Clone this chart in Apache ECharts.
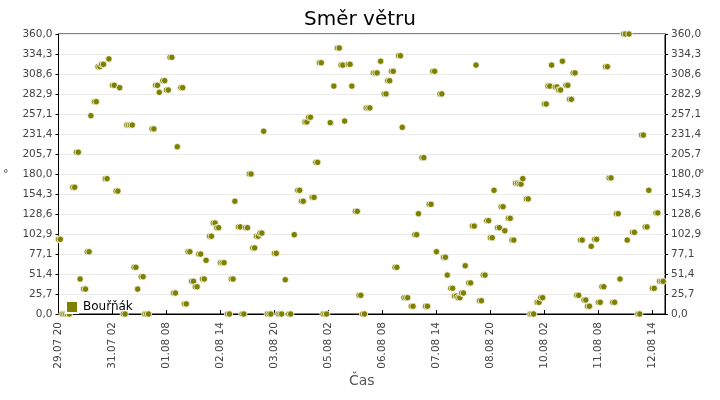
<!DOCTYPE html>
<html>
<head>
<meta charset="utf-8">
<title>Směr větru</title>
<style>html,body{margin:0;padding:0;background:#fff;}</style>
</head>
<body>
<div id="main" style="width: 720px;height:400px;"></div>
<script src="https://cdn.jsdelivr.net/npm/echarts@6/dist/echarts.min.js"></script>
<script>
    // hodiny od 29.07 20:00 a směr větru ve stupních
    var start = Date.UTC(2020, 6, 29, 20);
    var hours = [
        0, 1, 2, 3, 4, 5, 6, 8, 9, 10, 11, 12, 14, 15, 16, 17, 18, 20, 21, 22, 23, 24, 25, 26, 27, 28,
        30, 31, 32, 33, 34, 36, 37, 38, 39, 40, 41, 42, 43, 44, 46, 47, 48, 49, 50, 52, 53, 54, 55, 56,
        58, 59, 60, 61, 62, 63, 64, 65, 66, 68, 69, 70, 71, 72, 73, 74, 75, 76, 77, 78, 79, 80, 81, 82,
        84, 85, 86, 87, 88, 89, 90, 91, 92, 94, 95, 96, 97, 98, 100, 101, 102, 103, 104, 105, 106, 107,
        108, 109, 110, 111, 112, 113, 114, 116, 117, 118, 120, 121, 122, 123, 124, 126, 128, 129, 131,
        133, 134, 135, 136, 137, 138, 139, 140, 141, 142, 143, 144, 145, 146, 147, 148, 149, 151, 153,
        155, 156, 157, 158, 159, 161, 162, 163, 165, 166, 167, 168, 169, 170, 171, 172, 173, 175, 176, 177,
        179, 181, 182, 183, 184, 185, 186, 187, 188, 189, 190, 191, 192, 193, 194, 196, 197, 198, 199, 200,
        202, 203, 204, 205, 206, 207, 208, 209, 210, 212, 213, 214, 215, 216, 218, 219, 220, 221, 222, 223,
        224, 225, 226, 228, 229, 230, 231, 232, 234, 235, 236, 237, 238, 239, 240, 241, 242, 244, 245, 246,
        247, 248, 250, 251, 252, 253, 254, 255, 256, 257, 258, 260, 261, 262, 263, 264, 266, 267, 268, 269,
        270, 271, 272, 273, 274, 276, 277, 278, 279, 280, 282, 283, 284, 285, 286, 287, 288, 289, 290, 291,
        292, 293, 294, 295, 296, 298, 299, 300, 301, 302, 303, 304, 305, 306, 307, 308, 309, 310, 311, 312,
        314, 315, 317, 316, 319, 320, 322, 323, 324, 325, 326, 327, 328, 330, 331, 332, 333, 334, 335, 336
    ];
    var dirs = [
        96, 96, 0, 0, 0, 0, 0, 163, 163, 208, 208, 45, 32, 32, 80, 80, 255, 273, 273, 318, 318, 321, 321, 174, 174, 328,
        294, 294, 158, 158, 291, 0, 0, 243, 243, 243, 243, 60, 60, 32, 48, 48, 0, 0, 0, 238, 238, 294, 294, 285,
        300, 300, 288, 288, 330, 330, 27, 27, 215, 291, 291, 13, 13, 80, 80, 42, 42, 35, 35, 77, 77, 45, 45, 69,
        100, 100, 117, 117, 111, 111, 66, 66, 66, 0, 0, 45, 45, 145, 112, 112, 0, 0, 111, 111, 180, 180,
        85, 85, 100, 100, 104, 104, 235, 0, 0, 0, 78, 78, 0, 0, 0, 44, 0, 0, 102,
        159, 159, 145, 145, 247, 247, 253, 253, 150, 150, 195, 195, 323, 323, 0, 0, 0, 246, 293,
        342, 342, 320, 320, 248, 321, 321, 293, 132, 132, 24, 24, 0, 0, 265, 265, 265, 310, 310, 310,
        325, 283, 283, 300, 300, 312, 312, 60, 60, 332, 332, 240, 21, 21, 21, 10, 10, 102, 102, 129,
        201, 201, 10, 10, 141, 141, 312, 312, 80, 283, 283, 73, 73, 50, 33, 33, 23, 23, 21, 21,
        27, 27, 62, 40, 40, 113, 113, 320, 17, 17, 50, 50, 120, 120, 98, 98, 159, 111, 111, 138,
        138, 107, 123, 123, 95, 95, 168, 168, 167, 167, 174, 148, 148, 0, 0, 0, 15, 15, 21, 21,
        270, 270, 293, 293, 320, 292, 292, 288, 288, 325, 294, 294, 276, 276, 310, 310, 24, 24, 95, 95,
        18, 18, 10, 10, 87, 96, 96, 15, 15, 35, 35, 318, 318, 175, 175, 15, 15, 129, 129, 45,
        360, 360, 360, 95, 105, 105, 0, 0, 230, 230, 112, 112, 159, 33, 33, 130, 130, 42, 42, 42
    ];
    var stationName = 'Bouřňák';

    var points = hours.map(function (h, i) {
        return [h, dirs[i]];
    });

    function pad(n) {
        return (n < 10 ? '0' : '') + n;
    }
    function timeLabel(h) {
        var d = new Date(start + h * 3600000);
        return pad(d.getUTCDate()) + '.' + pad(d.getUTCMonth() + 1) + ' ' + pad(d.getUTCHours());
    }
    function degLabel(v) {
        return v.toFixed(1).replace('.', ',');
    }

    var font = 'DejaVu Sans';
    var yAxisBase = {
        type: 'value',
        min: 0,
        max: 360,
        interval: 360 / 14,
        name: '°',
        nameLocation: 'middle',
        nameRotate: 0,
        nameMoveOverlap: false,
        nameTextStyle: {color: '#444', fontSize: 11, fontFamily: font},
        axisLine: {show: true, lineStyle: {color: '#000'}},
        axisTick: {show: true, length: 3, lineStyle: {color: '#000'}},
        axisLabel: {formatter: degLabel, color: '#444', fontSize: 10.5, fontFamily: font, margin: 6}
    };

    var myChart = echarts.init(document.getElementById('main'));
    var option = {
        animation: false,
        backgroundColor: '#fff',
        title: {
            text: 'Směr větru',
            left: 'center',
            top: 5,
            textStyle: {fontSize: 20, fontWeight: 'normal', color: '#000', fontFamily: font}
        },
        legend: {
            data: [stationName],
            left: 60,
            top: 295,
            icon: 'rect',
            itemWidth: 12,
            itemHeight: 12,
            itemGap: 6,
            textStyle: {fontSize: 12, color: '#000', fontFamily: font}
        },
        grid: {
            left: 55,
            right: 55,
            top: 34,
            bottom: 86,
            show: true,
            borderColor: '#000',
            borderWidth: 1
        },
        xAxis: {
            type: 'value',
            min: 0,
            max: 337,
            interval: 30,
            name: 'Čas',
            nameLocation: 'middle',
            nameGap: 60,
            nameMoveOverlap: false,
            nameTextStyle: {color: '#555', fontSize: 14, fontFamily: font},
            splitLine: {show: false},
            axisLine: {lineStyle: {color: '#000'}},
            axisTick: {inside: true, length: 4, lineStyle: {color: '#000'}},
            axisLabel: {
                formatter: timeLabel,
                rotate: 90,
                showMaxLabel: false,
                color: '#444',
                fontSize: 10.5,
                fontFamily: font,
                margin: 8
            }
        },
        yAxis: [
            echarts.util.merge({
                position: 'left',
                nameGap: 50,
                splitLine: {show: true, lineStyle: {color: '#ebebeb'}}
            }, yAxisBase),
            echarts.util.merge({
                position: 'right',
                nameGap: 34,
                splitLine: {show: false}
            }, yAxisBase)
        ],
        series: [{
            name: stationName,
            type: 'scatter',
            data: points,
            symbol: 'circle',
            symbolSize: 6.5,
            itemStyle: {color: '#808000', borderColor: '#fff', borderWidth: 0.8, opacity: 1}
        }]
    };
    myChart.setOption(option);
</script>
</body>
</html>
